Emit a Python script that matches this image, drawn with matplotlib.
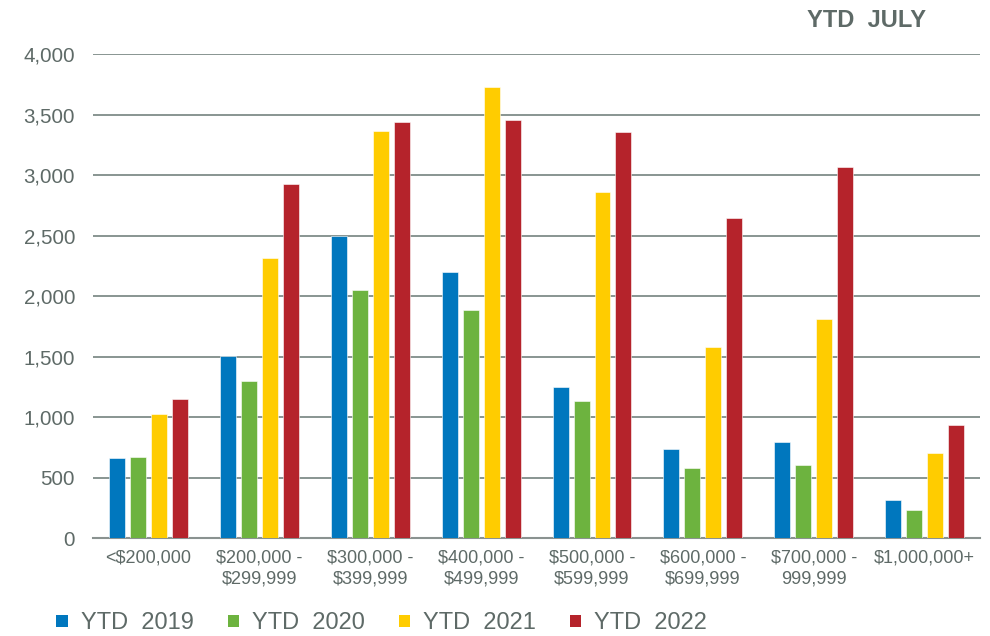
import matplotlib
matplotlib.use("Agg")
import matplotlib.pyplot as plt
import numpy as np
from matplotlib.ticker import FuncFormatter
from matplotlib.patches import Patch

categories = ["<$200,000", "$200,000 -\n$299,999", "$300,000 -\n$399,999", "$400,000 -\n$499,999",
              "$500,000 -\n$599,999", "$600,000 -\n$699,999", "$700,000 -\n999,999", "$1,000,000+"]
series_names = ["YTD  2019", "YTD  2020", "YTD  2021", "YTD  2022"]
ytd_2019 = [663, 1508, 2500, 2196, 1251, 737, 790, 315]
ytd_2020 = [674, 1301, 2047, 1884, 1135, 577, 607, 232]
ytd_2021 = [1022, 2315, 3367, 3726, 2856, 1575, 1807, 699]
ytd_2022 = [1146, 2923, 3437, 3458, 3359, 2643, 3063, 937]
colors = ["#0077BE", "#6DB33F", "#FFCC00", "#B5232B"]

plt.rcParams['font.family'] = ['Liberation Sans', 'DejaVu Sans']
txt = "#5E6A67"

fig = plt.figure(figsize=(9.9, 6.36), dpi=100)
ax = fig.add_axes([0.094, 0.154, 0.896, 0.761])

x = np.arange(len(categories))
w = 0.144
step = 0.189
for i, (vals, c) in enumerate(zip([ytd_2019, ytd_2020, ytd_2021, ytd_2022], colors)):
    ax.bar(x + (i - 1.5) * step, vals, width=w, color=c, edgecolor='white', linewidth=0.4, zorder=3)

ax.set_xlim(-0.5, len(categories) - 0.5)
ax.set_ylim(0, 4000)
ax.set_yticks(np.arange(0, 4001, 500))
ax.yaxis.set_major_formatter(FuncFormatter(lambda v, p: f"{int(v):,}"))
ax.grid(axis='y', color='#7F8C89', linewidth=1.3, zorder=0)
ax.set_axisbelow(True)
for s in ['top', 'right', 'left']:
    ax.spines[s].set_visible(False)
ax.spines['bottom'].set_color('#8A9290')
ax.spines['bottom'].set_linewidth(1.5)
ax.tick_params(axis='y', length=0, labelsize=14.8, labelcolor=txt, pad=13)
ax.tick_params(axis='x', length=0, labelsize=13, labelcolor=txt, pad=8.5)
ax.set_xticks(x)
ax.set_xticklabels(categories, linespacing=1.27)

fig.text(0.935, 0.968, "YTD  JULY", ha='right', va='center', fontsize=17, fontweight='bold', color=txt)

handles = [Patch(facecolor=c, edgecolor='none') for c in colors]
leg = fig.legend(handles, series_names, loc='center left', bbox_to_anchor=(0.057, 0.02),
                 ncol=4, frameon=False, fontsize=17, labelcolor=txt, borderpad=0, borderaxespad=0,
                 handlelength=0.47, handleheight=0.45, handletextpad=0.55, columnspacing=1.45)

fig.savefig("out.png", dpi=100)
